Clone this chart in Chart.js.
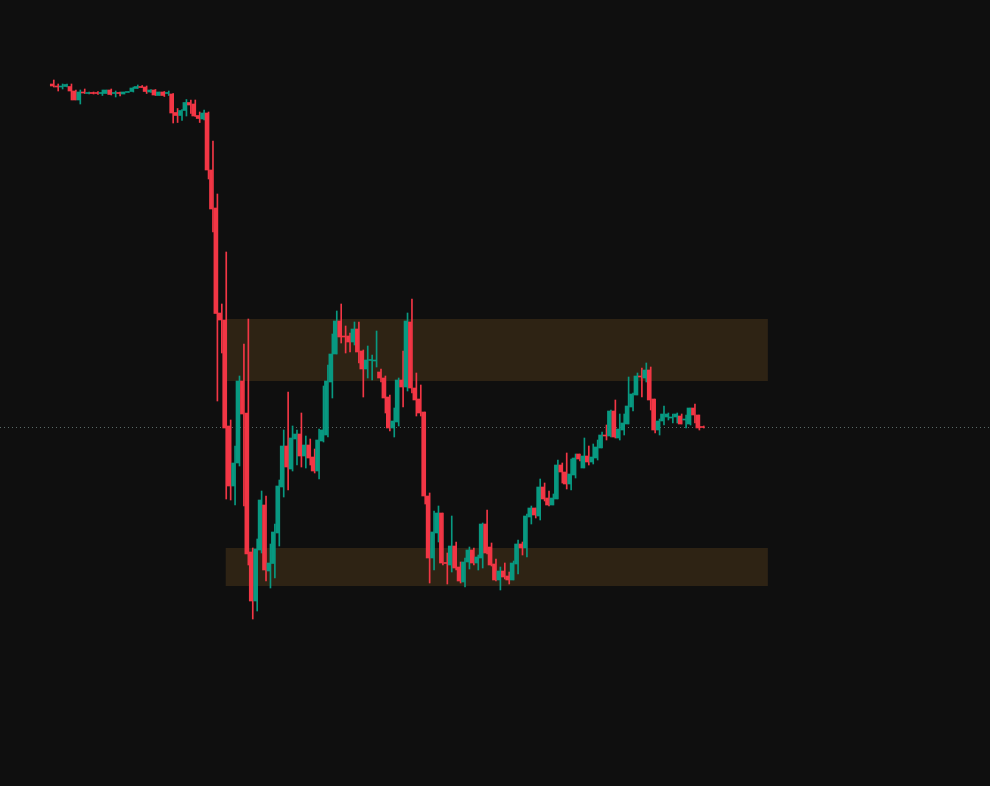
<!DOCTYPE html>
<html>
<head>
<meta charset="utf-8">
<script src="https://cdn.jsdelivr.net/npm/chart.js@4"></script>
<style>
  html, body { margin: 0; padding: 0; background: #0f0f0f; }
  #wrap { width: 990px; height: 786px; }
</style>
</head>
<body>
<div id="wrap"><canvas id="chart"></canvas></div>
<script>
// candle values (open / high / low / close), one per bar
const opens = [91.6,91.4,91.3,91.35,91.35,90.9,90.0,90.8,90.65,90.75,90.75,90.65,90.65,91.0,90.65,90.75,90.6,90.75,90.85,91.15,
  91.35,91.3,90.8,91.0,90.45,90.8,90.65,90.6,88.75,88.45,88.95,89.75,89.6,88.45,88.1,88.7,83.0,79.2,68.7,68.0,
  57.4,51.4,53.7,61.9,58.7,44.8,39.9,45.0,49.5,42.9,43.65,46.7,51.3,55.4,53.1,56.1,56.6,54.4,55.5,54.3,
  52.9,55.9,56.5,61.8,64.6,67.9,66.4,66.4,65.8,67.1,64.9,63.1,63.95,63.9,62.8,62.2,60.3,57.2,57.8,62.0,
  61.3,67.8,61.2,60.1,58.8,50.4,44.2,46.7,48.7,43.75,43.5,45.4,43.3,41.8,43.8,45.0,43.7,44.2,47.6,45.3,
  43.6,42.0,42.9,42.4,42.0,43.6,45.6,45.2,48.3,49.2,48.4,51.3,50.2,49.5,50.1,53.5,52.8,51.6,52.5,54.6,
  53.2,54.4,53.8,54.2,55.2,56.5,56.4,58.9,56.2,57.0,57.6,59.3,60.5,62.4,62.2,63.0,60.1,57.0,57.9,58.3,
  58.2,58.3,58.4,58.0,57.6,59.2,58.5,57.3];
const highs = [92.0,91.6,91.6,91.6,91.6,91.0,91.0,91.1,90.8,90.8,90.85,91.0,91.0,91.1,90.9,90.8,90.8,90.85,91.3,91.5,
  91.45,91.4,91.05,91.05,90.8,90.85,90.9,90.65,89.15,89.05,90.05,90.0,90.0,88.8,89.0,88.8,85.9,80.6,69.6,74.8,
  58.0,55.4,62.4,65.6,68.1,45.2,46.1,50.9,50.4,45.6,47.6,52.0,57.0,60.8,57.4,57.0,58.7,56.4,56.1,55.1,
  57.1,61.4,63.5,66.6,68.9,69.6,67.4,66.7,67.8,67.8,65.0,65.4,64.5,66.9,63.1,62.4,60.5,59.2,62.2,64.9,
  68.7,70.1,62.7,61.5,58.8,50.7,48.9,49.4,48.7,44.7,48.4,45.8,43.8,44.2,45.3,45.2,44.5,47.7,49.0,45.7,
  44.1,43.3,43.7,42.8,43.9,46.0,45.8,48.6,49.4,49.2,52.1,51.7,50.9,50.6,54.0,53.7,54.7,54.1,54.6,54.6,
  56.2,55.4,55.6,56.0,56.8,57.5,59.0,60.0,58.6,58.6,62.3,60.7,62.7,63.2,63.7,63.3,60.1,58.1,59.4,58.7,
  58.6,58.7,58.6,58.5,59.2,59.6,58.5,57.4];
const lows = [91.3,90.9,91.1,91.3,90.0,90.0,89.6,90.65,90.6,90.6,90.55,90.45,90.65,90.5,90.3,90.4,90.6,90.75,90.8,91.15,
  91.25,90.65,90.75,90.45,90.45,90.35,90.45,87.7,87.75,87.95,88.4,88.65,88.35,87.75,88.0,82.1,76.8,59.9,64.7,50.1,
  50.0,49.5,53.4,49.4,43.5,38.1,38.9,44.7,41.9,41.2,42.2,45.4,50.3,51.0,52.9,53.5,53.3,53.2,53.5,52.7,
  52.1,55.8,56.3,60.2,64.6,65.7,64.7,64.8,65.5,63.7,60.3,62.2,62.0,63.3,61.8,58.7,56.9,56.3,57.4,59.3,
  60.9,60.7,58.4,58.4,49.6,41.7,43.0,45.8,43.5,41.6,42.8,43.0,41.7,41.3,43.1,43.5,43.0,43.2,44.6,43.4,
  41.9,41.0,42.1,41.6,42.0,42.6,44.5,44.3,47.6,48.2,48.0,49.9,49.4,49.5,50.1,51.7,51.1,51.0,52.2,53.9,
  53.2,53.5,53.6,54.0,55.2,56.0,56.3,56.2,56.0,56.5,57.6,58.9,60.5,60.3,61.8,59.0,56.7,56.5,57.5,58.0,
  57.7,57.7,57.6,57.2,57.5,57.7,57.0,57.2];
const closes = [91.4,91.3,91.4,91.55,90.9,90.0,90.8,90.7,90.75,90.65,90.65,90.75,91.0,90.55,90.75,90.65,90.8,90.85,91.2,91.35,
  91.25,90.85,91.0,90.5,90.8,90.45,90.75,88.7,88.45,88.95,89.75,89.5,88.4,88.15,88.7,83.0,79.1,68.65,68.0,57.2,
  51.4,53.7,61.9,58.6,44.6,39.9,45.1,50.0,43.0,43.7,46.8,51.4,55.4,53.3,56.2,56.6,54.4,55.5,54.2,52.9,
  56.0,57.0,61.9,64.6,67.9,66.3,66.3,65.8,67.1,64.8,63.1,64.0,64.05,64.0,62.2,60.2,57.2,57.9,62.0,61.3,
  67.9,61.2,60.0,58.7,50.4,44.2,46.8,48.7,43.7,43.65,45.4,43.2,41.9,43.8,45.0,43.7,44.3,47.6,44.7,43.5,
  42.0,42.9,42.3,42.0,43.7,45.6,45.2,48.4,49.2,48.5,51.3,50.1,49.5,50.2,53.5,52.8,51.6,52.6,54.2,54.1,
  54.4,53.8,54.3,55.3,56.5,56.4,58.9,56.3,57.1,57.7,59.4,60.6,62.4,62.3,63.0,60.0,57.0,57.9,58.6,58.6,
  58.3,58.6,57.6,58.1,59.2,58.5,57.2,57.25];

// supply / demand zones: [start bar, end bar, low price, high price]
const zoneStarts = [39, 39];
const zoneEnds = [161.6, 161.6];
const zoneLows = [61.9, 41.4];
const zoneHighs = [68.1, 45.2];

// visible bar range
const xMin = -12.05;
const xMax = 211.84;

const upColor = "#089981";
const downColor = "#f23645";
const zoneColor = "#2e2314";

const bars = opens.map((o, i) => i);
const bodyData = bars.map(i => ({ x: i, y: [opens[i], closes[i]] }));
const wickData = bars.map(i => ({ x: i, y: [lows[i], highs[i]] }));
const lastClose = closes[closes.length - 1];

function candleColor(ctx) {
  const i = ctx.dataIndex;
  return closes[i] >= opens[i] ? upColor : downColor;
}

const zonePlugin = {
  id: "zones",
  beforeDatasetsDraw(chart) {
    const { ctx, scales: { x, y } } = chart;
    ctx.save();
    ctx.fillStyle = zoneColor;
    for (let k = 0; k < zoneStarts.length; k++) {
      const x1 = x.getPixelForValue(zoneStarts[k]);
      const x2 = x.getPixelForValue(zoneEnds[k]);
      const y1 = y.getPixelForValue(zoneHighs[k]);
      const y2 = y.getPixelForValue(zoneLows[k]);
      ctx.fillRect(x1, y1, x2 - x1, y2 - y1);
    }
    ctx.restore();
  }
};

new Chart(document.getElementById("chart"), {
  type: "bar",
  data: {
    datasets: [
      {
        label: "body",
        data: bodyData,
        backgroundColor: candleColor,
        barThickness: 3,
        minBarLength: 1,
        borderWidth: 0
      },
      {
        label: "wick",
        data: wickData,
        backgroundColor: candleColor,
        barThickness: 1,
        minBarLength: 1,
        borderWidth: 0
      },
      {
        type: "line",
        label: "last",
        data: [{ x: xMin, y: lastClose }, { x: xMax, y: lastClose }],
        borderColor: "#5b6b68",
        borderWidth: 1,
        borderDash: [1, 3],
        pointRadius: 0,
        fill: false
      }
    ]
  },
  options: {
    responsive: true,
    maintainAspectRatio: false,
    animation: false,
    layout: { padding: 0 },
    plugins: { legend: { display: false }, tooltip: { enabled: false } },
    scales: {
      x: { type: "linear", min: xMin, max: xMax, offset: false, bounds: "ticks", display: false, grid: { display: false } },
      y: { type: "linear", min: 21.4, max: 100, display: false, grid: { display: false } }
    }
  },
  plugins: [zonePlugin]
});
</script>
</body>
</html>
